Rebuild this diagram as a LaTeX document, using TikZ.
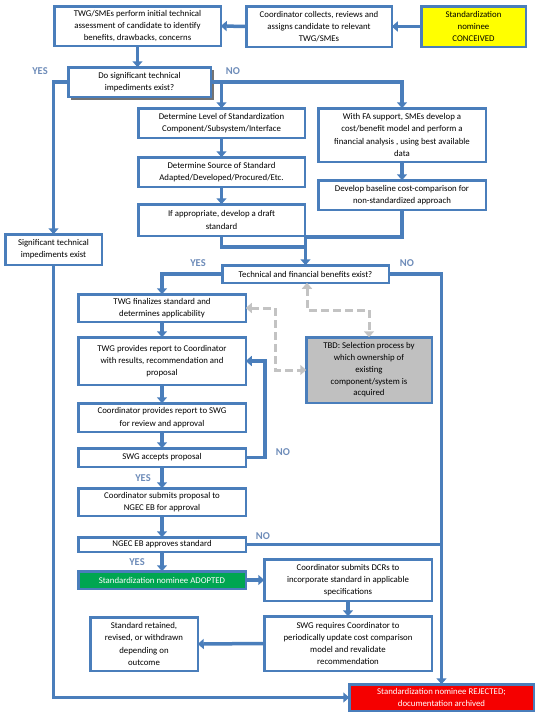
\documentclass[tikz,border=0pt]{standalone}
\usepackage{fontspec}
\setmainfont{Carlito}
\usetikzlibrary{arrows.meta,shadows}
\definecolor{bord}{RGB}{74,126,187}
\definecolor{lbl}{RGB}{110,140,185}
\definecolor{dgray}{RGB}{195,195,195}
\definecolor{tbdfill}{RGB}{192,192,192}
\definecolor{adopt}{RGB}{0,166,81}
\definecolor{rej}{RGB}{245,0,0}
\definecolor{yel}{RGB}{255,255,0}
\begin{document}
\begin{tikzpicture}[x=1pt,y=-1pt,
 box/.style={draw=bord, line width=2.5pt, fill=white, align=center, inner sep=1pt, outer sep=0pt, font=\fontsize{8.8}{12.3}\selectfont},
 conn/.style={draw=bord, line width=3.5pt, -{Triangle[width=10pt,length=6pt]}},
 plain/.style={draw=bord, line width=3.5pt},
 dashconn/.style={draw=dgray, line width=3pt, dash pattern=on 8pt off 4pt, {Triangle[width=10pt,length=6pt]}-{Triangle[width=10pt,length=6pt]}},
 lab/.style={font=\fontsize{10.5}{10.5}\selectfont\bfseries, text=lbl, inner sep=0pt}
]
\useasboundingbox (0,0) rectangle (540,720);

% boxes
\node[box, minimum width=166.5pt, minimum height=39.5pt] (tw) at (137.5,26) {TWG/SMEs perform initial technical\\assessment of candidate to identify\\benefits, drawbacks, concerns};
\node[box, minimum width=145.5pt, minimum height=40.5pt] (coord) at (319,26.5) {Coordinator collects, reviews and\\assigns candidate to relevant\\TWG/SMEs};
\node[box, fill=yel, minimum width=104.5pt, minimum height=40.5pt] (conc) at (473.5,26.5) {Standardization\\nominee\\CONCEIVED};
\node[box, minimum width=142.5pt, minimum height=29.5pt, drop shadow={shadow xshift=3pt, shadow yshift=-3pt, fill=black!55, opacity=1}] (dec1) at (139.5,82) {Do significant technical\\impediments exist?};
\node[box, minimum width=166.5pt, minimum height=29.5pt] (level) at (221.5,123) {Determine Level of Standardization\\Component/Subsystem/Interface};
\node[box, minimum width=166.5pt, minimum height=29.5pt] (source) at (221.5,172) {Determine Source of Standard\\Adapted/Developed/Procured/Etc.};
\node[box, minimum width=166.5pt, minimum height=31.5pt] (draft) at (221.5,220) {If appropriate, develop a draft\\standard};
\node[box, minimum width=167.5pt, minimum height=53.5pt] (fa) at (402,135) {With FA support, SMEs develop a\\cost/benefit model and perform a\\financial analysis , using best available\\data};
\node[box, minimum width=167.5pt, minimum height=29.5pt] (base) at (402,195) {Develop baseline cost-comparison for\\non-standardized approach};
\node[box, minimum width=96.5pt, minimum height=30.5pt] (sig) at (53.5,249.5) {Significant technical\\impediments exist};
\node[box, minimum width=166.5pt, minimum height=17.5pt] (dec2) at (305.5,274) {Technical and financial benefits exist?};
\node[box, minimum width=167.5pt, minimum height=27.5pt] (final) at (162,308) {TWG finalizes standard and\\determines applicability};
\node[box, minimum width=167.5pt, minimum height=47.5pt] (report) at (162,361) {TWG provides report to Coordinator\\with results, recommendation and\\proposal};
\node[box, minimum width=167.5pt, minimum height=28.5pt] (swgrev) at (162,417.5) {Coordinator provides report to SWG\\for review and approval};
\node[box, minimum width=167.5pt, minimum height=18.5pt] (accept) at (162,457.5) {SWG accepts proposal};
\node[box, fill=tbdfill, minimum width=125.5pt, minimum height=65.5pt, font=\fontsize{8.8}{11.7}\selectfont] (tbd) at (369,370) {TBD: Selection process by\\which ownership of\\existing\\component/system is\\acquired};
\node[box, minimum width=167.5pt, minimum height=27.5pt] (ngsub) at (162,502) {Coordinator submits proposal to\\NGEC EB for approval};
\node[box, minimum width=167.5pt, minimum height=14.5pt] (appr) at (162,544.5) {NGEC EB approves standard};
\node[box, fill=adopt, text=white, minimum width=167.5pt, minimum height=17.5pt] (adopt) at (162,580) {Standardization nominee ADOPTED};
\node[box, minimum width=167.5pt, minimum height=41.5pt] (dcr) at (348,580) {Coordinator submits DCRs to\\incorporate standard in applicable\\specifications};
\node[box, minimum width=167.5pt, minimum height=54.5pt] (swgreq) at (348,643.5) {SWG requires Coordinator to\\periodically update cost comparison\\model and revalidate\\recommendation};
\node[box, minimum width=107.5pt, minimum height=53.5pt] (ret) at (144,644) {Standard retained,\\revised, or withdrawn\\depending on\\outcome};
\node[box, fill=rej, text=white, minimum width=184.5pt, minimum height=26.5pt] (rej) at (441.5,697.5) {Standardization nominee REJECTED;\\documentation archived};

% coordinates
\coordinate (nojoin) at (level.north |- dec1.east);
\coordinate (j1) at (305.5,247);
\coordinate (j2) at (305.5,237);
\coordinate (loopR) at (265,457.5);
\coordinate (apprJ) at (rej.north |- appr.east);
\coordinate (dA) at (307,310);
\coordinate (dB) at (275,308);

% connectors
\draw[conn] (conc.west) -- (coord.east);
\draw[conn] (coord.west) -- (tw.east);
\draw[conn] (tw.south) -- (tw.south |- dec1.north);
\draw[conn] (dec1.west) -| (sig.north);
\draw[conn] (dec1.east) -| (fa.north);
\draw[conn] (nojoin) -- (level.north);
\draw[conn] (level) -- (source);
\draw[conn] (source) -- (draft);
\draw[conn] (fa) -- (base);
\draw[plain] (draft.south) |- (j1);
\draw[conn] (base.south) |- (j2) -- (dec2.north);
\draw[conn] (dec2.west) -| (final.north);
\draw[conn] (dec2.east) -| (rej.north);
\draw[conn] (final) -- (report);
\draw[conn] (report) -- (swgrev);
\draw[conn] (swgrev) -- (accept);
\draw[conn] (accept.east) -- (loopR) |- (report.east);
\draw[conn] (accept) -- (ngsub);
\draw[conn] (ngsub) -- (appr);
\draw[conn] (appr) -- (adopt);
\draw[plain] (appr.east) -- (apprJ);
\draw[conn] (adopt.east) -- (dcr.west);
\draw[conn] (dcr) -- (swgreq);
\draw[conn] (swgreq.west) -- (ret.east);
\draw[conn] (sig.south) |- (rej.west);

% dashed
\draw[dashconn] (dec2.south -| dA) -- (dA) -| (tbd.north);
\draw[dashconn] (final.east) -- (dB) |- (tbd.west);

% labels
\node[lab] (y1) at (40,71) {YES};
\node[lab] (n1) at (233,71) {NO};
\node[lab] (y2) at (198,263) {YES};
\node[lab] (n2) at (407,263) {NO};
\node[lab] (n3) at (283,452) {NO};
\node[lab] (y3) at (143,478) {YES};
\node[lab] (n4) at (263,536) {NO};
\node[lab] (y4) at (137,562) {YES};
\end{tikzpicture}
\end{document}
